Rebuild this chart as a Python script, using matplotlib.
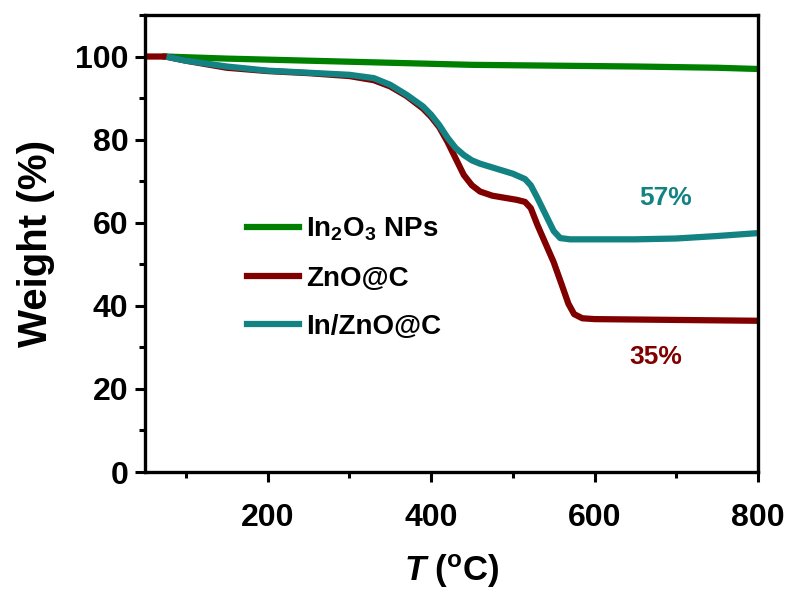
import numpy as np
import matplotlib.pyplot as plt
from matplotlib.ticker import MultipleLocator

plt.rcParams['font.family'] = 'Liberation Sans'
plt.rcParams['font.weight'] = 'bold'
plt.rcParams['axes.labelweight'] = 'bold'
plt.rcParams['mathtext.fontset'] = 'custom'
plt.rcParams['mathtext.rm'] = 'Liberation Sans:bold'
plt.rcParams['mathtext.it'] = 'Liberation Sans:italic:bold'
plt.rcParams['mathtext.bf'] = 'Liberation Sans:bold'

# TGA curves (temperature in C, weight in %)
t_in2o3 = [75, 150, 250, 350, 450, 550, 650, 750, 800]
w_in2o3 = [100, 99.5, 99.0, 98.5, 98.0, 97.8, 97.6, 97.3, 97.0]

t_zno = [50, 75, 100, 150, 200, 250, 300, 330, 350, 370, 390, 400, 410, 420,
         430, 440, 450, 460, 475, 490, 505, 515, 522, 530, 540, 550, 560, 568,
         575, 585, 600, 650, 700, 800]
w_zno = [100, 100, 99.0, 97.3, 96.5, 96.0, 95.3, 94.3, 92.8, 90.5, 87.5, 85.5,
         83, 79.5, 75.5, 71.5, 69, 67.5, 66.5, 66, 65.5, 65, 63.5, 59.5, 55,
         50.5, 45, 40.5, 38, 37, 36.8, 36.7, 36.6, 36.4]

t_inzno = [80, 100, 150, 200, 250, 300, 330, 350, 370, 390, 400, 410, 420, 430,
           440, 450, 460, 480, 500, 515, 522, 530, 540, 550, 558, 570, 600,
           650, 700, 750, 800]
w_inzno = [99.8, 99.0, 97.6, 96.6, 96.1, 95.6, 94.8, 93.2, 90.8, 88, 86, 83.5,
           80.5, 78, 76.3, 75, 74.2, 73, 71.8, 70.5, 69, 66, 62, 58, 56.3, 56,
           56, 56, 56.2, 56.8, 57.5]

labels = ['In$_2$O$_3$ NPs', 'ZnO@C', 'In/ZnO@C']
colors = ['#008000', '#800000', '#138282']

fig = plt.figure(figsize=(7.94, 5.92), dpi=100)
ax = fig.add_axes([0.1826, 0.2027, 0.7721, 0.772])

ax.plot(t_in2o3, w_in2o3, color=colors[0], lw=4.5, label=labels[0])
ax.plot(t_zno, w_zno, color=colors[1], lw=4.5, label=labels[1])
ax.plot(t_inzno, w_inzno, color=colors[2], lw=4.5, label=labels[2])

ax.text(687, 66, '57%', color=colors[2], fontsize=19, ha='center', va='center')
ax.text(675, 27.6, '35%', color=colors[1], fontsize=19, ha='center', va='center')

ax.set_xlim(50, 800)
ax.set_ylim(0, 110)
ax.xaxis.set_major_locator(MultipleLocator(200))
ax.xaxis.set_minor_locator(MultipleLocator(100))
ax.yaxis.set_major_locator(MultipleLocator(20))
ax.yaxis.set_minor_locator(MultipleLocator(10))
ax.tick_params(which='both', direction='out', width=2.2, labelsize=23, pad=5)
ax.tick_params(axis='x', which='major', pad=15)
ax.tick_params(which='major', length=7)
ax.tick_params(which='minor', length=4)
for s in ax.spines.values():
    s.set_linewidth(2.4)

ax.set_ylabel('Weight (%)', fontsize=29, labelpad=14)
ax.set_xlabel(r'$\mathit{T}$ ($^\mathrm{o}$C)', fontsize=25, labelpad=14)

ax.legend(loc='center left', bbox_to_anchor=(0.125, 0.425), frameon=False,
          fontsize=20, handlelength=1.9, handletextpad=0.25, labelspacing=0.8)

fig.savefig('out.png', dpi=100)
